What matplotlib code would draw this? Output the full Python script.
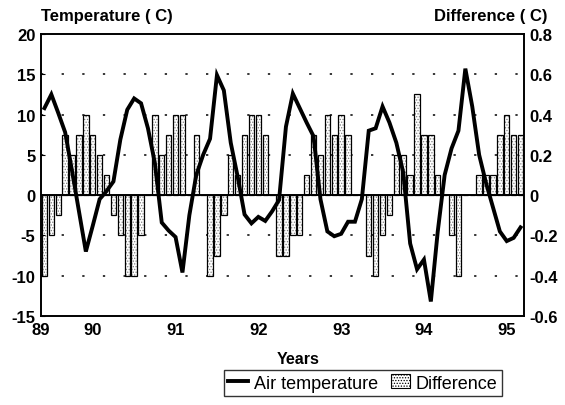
import matplotlib
matplotlib.use('Agg')
import matplotlib.pyplot as plt
import numpy as np
from matplotlib.patches import Patch
from matplotlib.lines import Line2D

plt.rcParams['font.family'] = ['Liberation Sans', 'DejaVu Sans']
plt.rcParams['axes.unicode_minus'] = False
plt.rcParams['hatch.linewidth'] = 0.6

# Monthly data, Jun 1989 .. Mar 1995
air_temperature = [10.8, 12.5, 10.2, 7.8, 3.0, -2.0, -7.0, -3.8, -0.5, 0.5,
                   1.7, 6.9, 10.6, 12.0, 11.4, 8.3, 4.0, -3.4, -4.4, -5.2,
                   -9.6, -2.5, 2.5, 5.0, 7.0, 14.9, 13.0, 6.5, 2.3, -2.4,
                   -3.5, -2.7, -3.2, -2.0, -0.6, 8.5, 12.6, 10.8, 9.0, 7.3,
                   -0.5, -4.5, -5.1, -4.8, -3.3, -3.3, -0.5, 8.0, 8.3, 11.0,
                   9.0, 6.5, 2.8, -6.0, -9.2, -8.0, -13.2, -4.5, 2.5, 5.8,
                   8.0, 15.7, 11.0, 5.0, 1.5, -1.5, -4.5, -5.7, -5.3, -4.0]

difference = [-0.4, -0.2, -0.1, 0.3, 0.2, 0.3, 0.4, 0.3, 0.2, 0.1,
              -0.1, -0.2, -0.4, -0.4, -0.2, 0.0, 0.4, 0.2, 0.3, 0.4,
              0.4, 0.0, 0.3, 0.0, -0.4, -0.3, -0.1, 0.2, 0.1, 0.3,
              0.4, 0.4, 0.3, 0.0, -0.3, -0.3, -0.2, -0.2, 0.1, 0.3,
              0.2, 0.4, 0.3, 0.4, 0.3, 0.0, 0.0, -0.3, -0.4, -0.2,
              -0.1, 0.2, 0.2, 0.1, 0.5, 0.3, 0.3, 0.1, 0.0, -0.2,
              -0.4, 0.0, 0.0, 0.1, 0.1, 0.1, 0.3, 0.4, 0.3, 0.3]

year_labels = ['89', '90', '91', '92', '93', '94', '95']
year_tick_months = [-0.5, 7, 19, 31, 43, 55, 67]

left_ticks = [-15, -10, -5, 0, 5, 10, 15, 20]
right_ticks = [-0.6, -0.4, -0.2, 0, 0.2, 0.4, 0.6, 0.8]
right_labels = ['-0.6', '-0.4', '-0.2', '0', '0.2', '0.4', '0.6', '0.8']

months = np.arange(len(air_temperature))

fig = plt.figure(figsize=(5.65, 4.06), dpi=100)
ax = fig.add_axes([41/565, 1-317/406, (524-41)/565, (317-35)/406])
ax2 = ax.twinx()
ax.set_zorder(ax2.get_zorder() + 1)
ax.patch.set_visible(False)

# dashed grid on the right axis, behind the bars
for v in [-0.4, -0.2, 0.2, 0.4, 0.6]:
    ax2.axhline(v, color='black', lw=1.1, ls=(0, (1.5, 12)), zorder=0)

ax2.bar(months, difference, width=0.78, color='white', edgecolor='#808080',
        hatch='......', linewidth=0, zorder=1)
ax2.bar(months, difference, width=0.78, fill=False, edgecolor='black',
        linewidth=0.9, zorder=2)
ax2.axhline(0, color='black', lw=1.4, zorder=3)

ax.plot(months, air_temperature, color='black', lw=2.8, solid_joinstyle='miter', zorder=5)

ax.set_xlim(-0.5, len(months) - 0.5)
ax.set_ylim(-15, 20)
ax2.set_ylim(-0.6, 0.8)

ax.set_yticks(left_ticks)
ax.set_yticklabels([str(t) for t in left_ticks])
ax2.set_yticks(right_ticks)
ax2.set_yticklabels(right_labels)
ax.set_xticks(year_tick_months)
ax.set_xticklabels(year_labels)

for lab in ax.get_xticklabels() + ax.get_yticklabels() + ax2.get_yticklabels():
    lab.set_fontsize(12)
    lab.set_fontweight('bold')

ax.tick_params(axis='x', length=0, pad=4)
ax.tick_params(axis='y', length=3, direction='in', pad=4)
ax2.tick_params(axis='y', length=0, pad=4)

for a in (ax, ax2):
    for s in a.spines.values():
        s.set_linewidth(1.2)
        s.set_color('black')

fig.text(41/565, 1-16/406, 'Temperature ( C)', ha='left', va='center',
         fontsize=12, fontweight='bold')
fig.text(548/565, 1-16/406, 'Difference ( C)', ha='right', va='center',
         fontsize=12, fontweight='bold')
fig.text(298/565, 1-360/406, 'Years', ha='center', va='center', fontsize=11.5,
         fontweight='bold')

handles = [Line2D([], [], color='black', lw=2.8),
           Patch(facecolor='white', edgecolor='black', hatch='......', linewidth=0.8)]
leg = fig.legend(handles, ['Air temperature', 'Difference'], loc='center',
                 bbox_to_anchor=(363/565, 1-384/406), ncol=2, frameon=True,
                 fancybox=False, shadow=False, fontsize=13, handlelength=1.1,
                 handleheight=0.8, columnspacing=0.7, handletextpad=0.3,
                 borderpad=0.25, borderaxespad=0)
leg.get_frame().set_edgecolor('black')
leg.get_frame().set_linewidth(1.0)

fig.savefig('out.png', dpi=100)
